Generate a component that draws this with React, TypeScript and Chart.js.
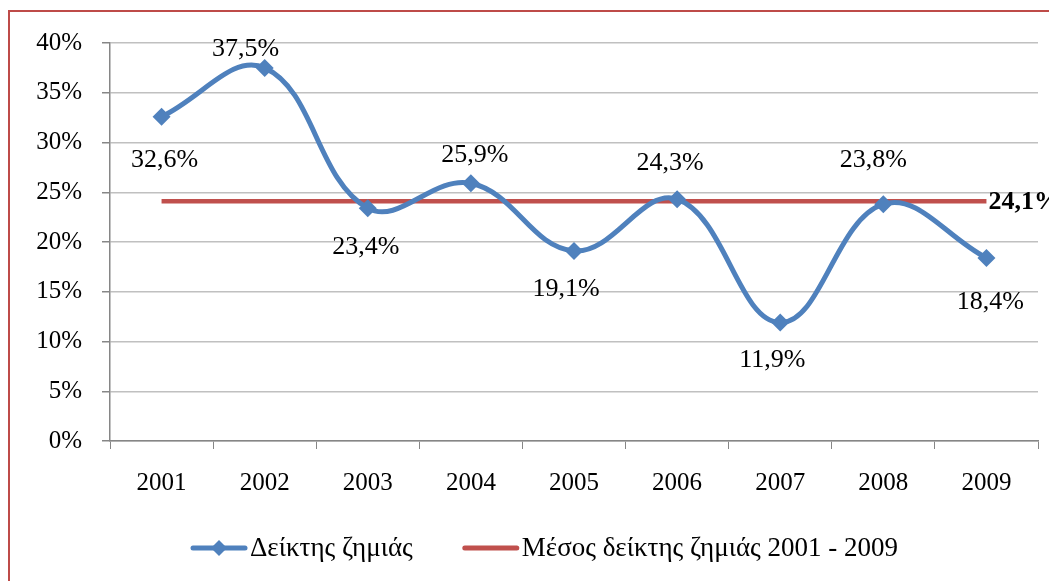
import React, { useEffect, useRef } from "react";
import { Chart, registerables } from "chart.js";

Chart.register(...registerables);

const years = ["2001", "2002", "2003", "2004", "2005", "2006", "2007", "2008", "2009"];
const lossIndex = [32.6, 37.5, 23.4, 25.9, 19.1, 24.3, 11.9, 23.8, 18.4];
const averageValue = 24.1;
const averageLine = years.map(() => averageValue);
const yTicks = [0, 5, 10, 15, 20, 25, 30, 35, 40];
const seriesNames = ["Δείκτης ζημιάς", "Μέσος δείκτης ζημιάς 2001 - 2009"];
// label placement relative to each point (dx, dy in px)
const labelOffsets: [number, number][] = [
  [3, 44], [-19, -19], [-2, 39], [4, -28], [-8, 38], [-7, -36], [-8, 38], [-10, -44], [4, 44],
];

const BLUE = "#4F81BD";
const RED = "#C0504D";
const FONT = "'Liberation Serif', 'Times New Roman', serif";
const FS_TICK = 25;
const FS_LABEL = 26;
const FS_LEGEND = 27;

const fmt = (v: number) => v.toFixed(1).replace(".", ",") + "%";

const labelsPlugin = {
  id: "customLabels",
  afterDatasetsDraw(chart: any) {
    const ctx = chart.ctx;
    ctx.save();
    ctx.fillStyle = "#000";
    ctx.font = `${FS_LABEL}px ${FONT}`;
    ctx.textAlign = "center";
    ctx.textBaseline = "middle";
    const meta0 = chart.getDatasetMeta(0);
    meta0.data.forEach((pt: any, i: number) => {
      const [dx, dy] = labelOffsets[i];
      ctx.fillText(fmt(lossIndex[i]), pt.x + dx, pt.y + dy);
    });
    const meta1 = chart.getDatasetMeta(1);
    const last = meta1.data[meta1.data.length - 1];
    ctx.font = `bold ${FS_LABEL}px ${FONT}`;
    ctx.textAlign = "left";
    ctx.fillText(fmt(averageValue), last.x + 2, last.y + 1);
    ctx.restore();
  },
};

const legendPlugin = {
  id: "customLegend",
  afterDraw(chart: any) {
    const ctx = chart.ctx;
    ctx.save();
    ctx.font = `${FS_LEGEND}px ${FONT}`;
    const sample = 58;
    const gapText = 2;
    const spacing = 49;
    const w1 = ctx.measureText(seriesNames[0]).width;
    let x = 182;
    const y = 540;
    ctx.strokeStyle = BLUE;
    ctx.lineWidth = 5;
    ctx.lineCap = "round";
    ctx.beginPath();
    ctx.moveTo(x + 3, y);
    ctx.lineTo(x + sample - 3, y);
    ctx.stroke();
    ctx.fillStyle = BLUE;
    const cx = x + sample / 2;
    const r = 8;
    ctx.beginPath();
    ctx.moveTo(cx, y - r);
    ctx.lineTo(cx + r, y);
    ctx.lineTo(cx, y + r);
    ctx.lineTo(cx - r, y);
    ctx.closePath();
    ctx.fill();
    x += sample + gapText;
    ctx.fillStyle = "#000";
    ctx.textBaseline = "middle";
    ctx.textAlign = "left";
    ctx.fillText(seriesNames[0], x, y + 1);
    x += w1 + spacing;
    ctx.strokeStyle = RED;
    ctx.lineWidth = 5;
    ctx.beginPath();
    ctx.moveTo(x + 3, y);
    ctx.lineTo(x + sample - 3, y);
    ctx.stroke();
    x += sample + gapText;
    ctx.fillText(seriesNames[1], x, y + 1);
    ctx.restore();
  },
};

export default function App() {
  const ref = useRef<HTMLCanvasElement>(null);
  useEffect(() => {
    document.body.style.overflow = "hidden";
    const chart = new Chart(ref.current as HTMLCanvasElement, {
      type: "line",
      data: {
        labels: years,
        datasets: [
          {
            label: seriesNames[0],
            data: lossIndex,
            borderColor: BLUE,
            backgroundColor: BLUE,
            borderWidth: 5,
            tension: 0.4,
            pointStyle: "rectRot",
            pointRadius: 9,
            pointBorderWidth: 0,
            pointBackgroundColor: BLUE,
            order: 0,
          },
          {
            label: seriesNames[1],
            data: averageLine,
            borderColor: RED,
            backgroundColor: RED,
            borderWidth: 4.5,
            pointRadius: 0,
            tension: 0,
            order: 1,
          },
        ],
      },
      options: {
        animation: false,
        responsive: false,
        maintainAspectRatio: false,
        layout: { padding: { left: 0, right: 19, top: 31, bottom: 0 } },
        plugins: {
          legend: { display: false },
          tooltip: { enabled: false },
        },
        scales: {
          x: {
            type: "category",
            offset: true,
            afterFit: (s: any) => {
              s.height = 140;
            },
            grid: {
              offset: true,
              drawOnChartArea: false,
              drawTicks: true,
              tickLength: 8,
              tickColor: "#868686",
            },
            border: { color: "#868686", width: 1.5 },
            ticks: {
              color: "#000",
              font: { family: FONT, size: FS_TICK },
              padding: 19,
              maxRotation: 0,
            },
          },
          y: {
            min: 0,
            max: 40,
            afterFit: (s: any) => {
              s.width = 102;
            },
            afterBuildTicks: (s: any) => {
              s.ticks = yTicks.map((v) => ({ value: v }));
            },
            grid: {
              color: "#C0C0C0",
              lineWidth: 1.5,
              tickLength: 8,
              tickColor: "#868686",
            },
            border: { color: "#868686", width: 1.5 },
            ticks: {
              color: "#000",
              font: { family: FONT, size: FS_TICK },
              padding: 20,
              callback: (v: any) => v + "%",
            },
          },
        },
      },
      plugins: [labelsPlugin, legendPlugin],
    });
    return () => chart.destroy();
  }, []);
  return (
    <div style={{ position: "relative", width: 1049, height: 573 }}>
      <canvas ref={ref} width={1049} height={573} style={{ display: "block" }} />
      <div
        style={{
          position: "absolute",
          left: 0,
          top: 2,
          width: 1049,
          height: 571,
          borderLeft: "2px solid #BE4B48",
          borderTop: "2px solid #BE4B48",
          boxSizing: "border-box",
          pointerEvents: "none",
        }}
      />
    </div>
  );
}
